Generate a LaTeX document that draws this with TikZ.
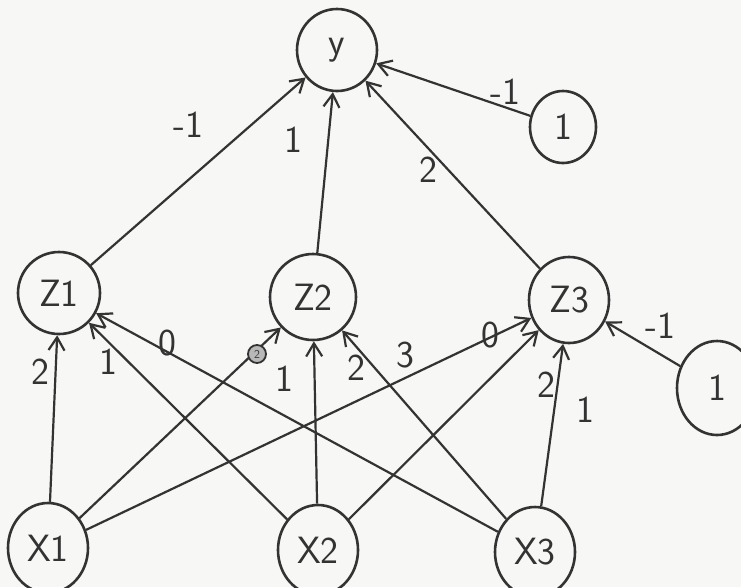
\documentclass[tikz,border=0pt]{standalone}
\usepackage{fontspec}
\usetikzlibrary{arrows.meta,shapes.geometric}
\definecolor{ink}{HTML}{333333}
\definecolor{paper}{HTML}{F7F7F5}
\begin{document}
\begin{tikzpicture}[x=1pt,y=-1pt,
  unit/.style={ellipse,draw=ink,line width=2.6pt,text=ink,inner sep=0pt,
    font=\sffamily\fontsize{38}{38}\selectfont},
  wire/.style={draw=ink,line width=2.2pt,-{Straight Barb[length=13pt,width=16pt,line width=2.2pt]}},
  wlab/.style={text=ink,font=\sffamily\fontsize{38}{38}\selectfont,inner sep=0pt}]
\fill[paper] (0,0) rectangle (741,587);
\useasboundingbox (0,0) rectangle (741,587);
% nodes
\node[unit,minimum width=80pt,minimum height=82pt] (Y) at (337,50) {y};
\node[unit,minimum width=66pt,minimum height=72pt] (B1) at (563,127) {1};
\node[unit,minimum width=82pt,minimum height=82pt] (Z1) at (59,293) {Z1};
\node[unit,minimum width=86pt,minimum height=86pt] (Z2) at (313,297) {Z2};
\node[unit,minimum width=80pt,minimum height=86pt] (Z3) at (569,300) {Z3};
\node[unit,minimum width=80pt,minimum height=94pt] (B2) at (717,388) {1};
\node[unit,minimum width=80pt,minimum height=90pt] (X1) at (48,548) {X1};
\node[unit,minimum width=80pt,minimum height=90pt] (X2) at (318,550) {X2};
\node[unit,minimum width=80pt,minimum height=90pt] (X3) at (535,552) {X3};
% connectors to y
\draw[wire] (Z1) -- (Y);
\draw[wire] (Z2) -- (Y);
\draw[wire] (Z3) -- (Y);
\draw[wire] (B1) -- (Y);
% connectors to hidden units
\draw[wire] (X1) -- (Z1);
\draw[wire] (X2) -- (Z1);
\draw[wire] (X3) -- (Z1);
\draw[wire] (X1) -- (Z2);
\draw[wire] (X2) -- (Z2);
\draw[wire] (X3) -- (Z2);
\draw[wire] (X1) -- (Z3);
\draw[wire] (X2) -- (Z3);
\draw[wire] (X3) -- (Z3);
\draw[wire] (B2) -- (Z3);
% weights
\node[wlab] (l1) at (188,125) {-1};
\node[wlab] (l2) at (293,140) {1};
\node[wlab] (l3) at (428,170) {2};
\node[wlab] (l4) at (505,92) {-1};
\node[wlab] (l5) at (40,372) {2};
\node[wlab] (l6) at (108,362) {1};
\node[wlab] (l7) at (167,343) {0};
\node[circle,draw=ink,line width=1.8pt,fill=ink!35,text=ink,inner sep=1pt,
  minimum size=18pt,font=\sffamily\fontsize{12}{12}\selectfont] (l8) at (257,354) {2};
\node[wlab] (l9) at (284,379) {1};
\node[wlab] (l10) at (356,368) {2};
\node[wlab] (l11) at (405,355) {3};
\node[wlab] (l12) at (490,335) {0};
\node[wlab] (l13) at (546,385) {2};
\node[wlab] (l14) at (585,410) {1};
\node[wlab] (l15) at (660,326) {-1};
\end{tikzpicture}
\end{document}
